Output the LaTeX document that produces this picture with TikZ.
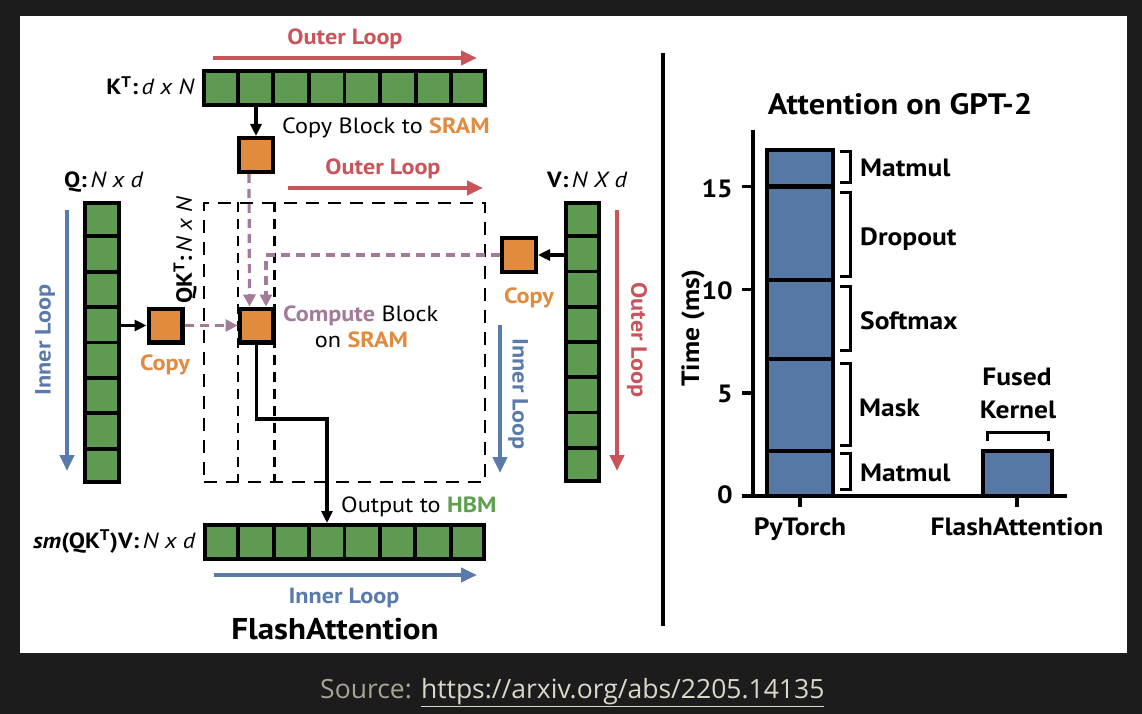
\documentclass[tikz,border=0pt]{standalone}
\usepackage{fontspec}
\setmainfont{PT Sans}[FakeStretch=1.1]
\newfontfamily\srcfont{Open Sans}
\usetikzlibrary{arrows.meta,calc}
\definecolor{bgdark}{HTML}{1C1C1C}
\definecolor{cgreen}{HTML}{5E9A51}
\definecolor{corange}{HTML}{E08B3E}
\definecolor{cred}{HTML}{C9555A}
\definecolor{cblue}{HTML}{5A7AAB}
\definecolor{cpurple}{HTML}{A27B9A}
\definecolor{cbar}{HTML}{5778A5}
\definecolor{hbm}{HTML}{5FA04F}
\definecolor{srcgrey}{HTML}{A9A392}
\definecolor{srclink}{HTML}{DAD6C8}
\newcommand\fsz[1]{\fontsize{#1}{#1}\selectfont}
\begin{document}
\begin{tikzpicture}[x=1pt,y=-1pt,
  lbl/.style={inner sep=0pt},
  dlbl/.style={inner sep=0pt, font=\fsz{22}},
  clbl/.style={inner sep=0pt, font=\bfseries\fsz{25}},
  bar/.style={draw=black, line width=4.2pt, fill=cgreen, inner sep=0pt},
  cellsep/.style={draw=black, line width=3.8pt},
  obox/.style={draw=black, line width=4.2pt, fill=corange, minimum size=33.8pt, inner sep=0pt},
  blkarrow/.style={draw=black, line width=3.4pt, -{Triangle[length=12pt,width=11pt]}},
  parrow/.style={draw=cpurple, line width=3.2pt, dash pattern=on 9pt off 6pt, -{Triangle[length=12pt,width=12pt]}},
  redarrow/.style={draw=cred, line width=4.2pt, -{Triangle[length=16pt,width=14pt]}},
  bluearrow/.style={draw=cblue, line width=4.2pt, -{Triangle[length=16pt,width=14pt]}},
  outdash/.style={draw=black, line width=2.2pt, dash pattern=on 13pt off 9pt},
  indash/.style={draw=black, line width=2.2pt, dash pattern=on 10pt off 7pt},
  axisline/.style={draw=black, line width=3.8pt},
  cbox/.style={draw=black, line width=4.2pt, fill=cbar},
  brk/.style={draw=black, line width=3pt},
]
% background and panel
\fill[bgdark] (0,0) rectangle (1142,714);
\fill[white] (20,16) rectangle (1127,653);
% divider
\draw[black, line width=3.2pt] (663,53) -- (663,626);

% ---------- matrices ----------
\node[bar, minimum width=280.8pt, minimum height=33.8pt] (kt) at (344.5,88) {};
\foreach \k in {1,...,7}
  \draw[cellsep] ($(kt.north west)!\k/8!(kt.north east)$) -- ($(kt.south west)!\k/8!(kt.south east)$);
\node[bar, minimum width=33.8pt, minimum height=278.8pt] (q) at (102,342.5) {};
\foreach \k in {1,...,7}
  \draw[cellsep] ($(q.north west)!\k/8!(q.south west)$) -- ($(q.north east)!\k/8!(q.south east)$);
\node[bar, minimum width=33pt, minimum height=278pt] (v) at (582.5,342) {};
\foreach \k in {1,...,7}
  \draw[cellsep] ($(v.north west)!\k/8!(v.south west)$) -- ($(v.north east)!\k/8!(v.south east)$);
\node[bar, minimum width=278.8pt, minimum height=33.8pt] (o) at (344.5,542) {};
\foreach \k in {1,...,7}
  \draw[cellsep] ($(o.north west)!\k/8!(o.north east)$) -- ($(o.south west)!\k/8!(o.south east)$);

% dashed QK^T region
\node[outdash, minimum width=281pt, minimum height=279pt, inner sep=0pt] (qk) at (344.5,342.5) {};

% inner dashed column
\draw[indash] (238,202) -- (238,483);
\draw[indash] (274.5,202) -- (274.5,483);

% orange blocks
\node[obox] (ktc) at (256,155) {};
\node[obox] (qc) at (165.5,325.5) {};
\node[obox] (cmp) at (256.5,325.5) {};
\node[obox] (vc) at (519,255) {};

% black arrows
\draw[blkarrow] (kt.south -| ktc.north) -- (ktc.north);
\draw[blkarrow] (q.east |- qc.west) -- (qc.west);
\draw[blkarrow] (v.west |- vc.east) -- (vc.east);
\coordinate (bend) at (327,419);
\draw[blkarrow] (cmp.south) |- (bend) -- (bend |- o.north);

% purple dashed arrows
\draw[parrow] ([xshift=-7pt]ktc.south) -- ([xshift=-7pt]cmp.north);
\draw[parrow] (vc.west) -| ([xshift=9.5pt]cmp.north);
\draw[parrow] (qc.east) -- (cmp.west);

% loop arrows
\coordinate (ola) at (213,58); \coordinate (olb) at (477,58);
\draw[redarrow] (ola) -- (olb);
\coordinate (olc) at (288,188); \coordinate (old) at (483,188);
\draw[redarrow] (olc) -- (old);
\coordinate (ila) at (214,575); \coordinate (ilb) at (477,575);
\draw[bluearrow] (ila) -- (ilb);
\coordinate (ilc) at (67,210); \coordinate (ild) at (67,471);
\draw[bluearrow] (ilc) -- (ild);
\coordinate (ole) at (617,210); \coordinate (olf) at (617,471);
\draw[redarrow] (ole) -- (olf);
\coordinate (ile) at (500,325); \coordinate (ilf) at (500,473);
\draw[bluearrow] (ile) -- (ilf);

% ---------- labels (left diagram) ----------
\node[dlbl, text=cred, font=\bfseries\fsz{22}, anchor=base] (t1) at (345,45) {Outer Loop};
\node[dlbl, anchor=base east] (t2) at (195,95) {\textbf{K\textsuperscript{T}:}\,\textit{d x N}};
\node[dlbl, anchor=base west] (t3) at (282,134) {Copy Block to \textcolor{corange}{\textbf{SRAM}}};
\node[dlbl, text=cred, font=\bfseries\fsz{22}, anchor=base] (t4) at (383,175) {Outer Loop};
\node[dlbl, anchor=base west] (t5) at (64,188) {\textbf{Q:}\,\textit{N x d}};
\node[dlbl, anchor=base west] (t6) at (547,188) {\textbf{V:}\,\textit{N X d}};
\node[dlbl, rotate=90] (t7) at (185,250) {\textbf{QK\textsuperscript{T}:}\,\textit{N x N}};
\node[dlbl, text=corange, font=\bfseries\fsz{22}, anchor=base] (t8) at (165,370) {Copy};
\node[dlbl, text=corange, font=\bfseries\fsz{22}, anchor=base] (t9) at (529,303) {Copy};
\node[dlbl, anchor=base west] (t10) at (283,321) {\textcolor{cpurple}{\textbf{Compute}} Block};
\node[dlbl, anchor=base] (t11) at (361.5,347) {on \textcolor{corange}{\textbf{SRAM}}};
\node[dlbl, anchor=base west] (t12) at (341,512) {Output to \textcolor{hbm}{\textbf{HBM}}};
\node[dlbl, anchor=base east] (t13) at (196,548) {\textbf{\textit{sm}(QK\textsuperscript{T})V:}\,\textit{N x d}};
\node[dlbl, text=cblue, font=\bfseries\fsz{22}, anchor=base] (t14) at (344,603) {Inner Loop};
\node[lbl, font=\bfseries\fsz{30}, anchor=base] (t15) at (335,639) {FlashAttention};
\node[dlbl, text=cblue, font=\bfseries\fsz{22}, rotate=90] (t16) at (45,340) {Inner Loop};
\node[dlbl, text=cblue, font=\bfseries\fsz{22}, rotate=-90] (t17) at (518,394) {Inner Loop};
\node[dlbl, text=cred, font=\bfseries\fsz{22}, rotate=-90] (t18) at (637,340) {Outer Loop};

% ---------- chart ----------
\node[lbl, font=\bfseries\fsz{29.5}, anchor=base] (title) at (900,115) {Attention on GPT-2};
\draw[cbox] (767,150) rectangle (833,496);
\foreach \yy in {186.5,280,359,451}
  \draw[black, line width=4.2pt] (767,\yy) -- (833,\yy);
\draw[cbox] (983,451) rectangle (1052,496);
\draw[axisline] (753,130) -- (753,496);
\draw[axisline] (742,496) -- (1067,496);
\foreach \yy in {186.5,289.5,393}
  \draw[axisline] (742,\yy) -- (753,\yy);
\draw[axisline] (800,496) -- (800,507);
\draw[axisline] (1017,496) -- (1017,507);
\node[clbl, anchor=base east] (y15) at (733,197) {15};
\node[clbl, anchor=base east] (y10) at (733,299) {10};
\node[clbl, anchor=base east] (y5) at (733,402) {5};
\node[clbl, anchor=base east] (y0) at (733,503) {0};
\node[clbl, rotate=90] (ylab) at (693,328) {Time (ms)};
\node[clbl, anchor=base] (xpt) at (800,535) {PyTorch};
\node[clbl, anchor=base] (xfa) at (1017,535) {FlashAttention};
% brackets
\draw[brk] (840,152) -- (850,152) -- (850,183) -- (840,183);
\draw[brk] (840,192) -- (850,192) -- (850,276) -- (840,276);
\draw[brk] (840,286) -- (850,286) -- (850,350) -- (840,350);
\draw[brk] (840,363) -- (850,363) -- (850,445) -- (840,445);
\draw[brk] (840,453) -- (850,453) -- (850,489) -- (840,489);
\draw[brk] (987,441) -- (987,432) -- (1048,432) -- (1048,441);
\node[clbl, anchor=base west] (m1) at (860,177) {Matmul};
\node[clbl, anchor=base west] (m2) at (860,245) {Dropout};
\node[clbl, anchor=base west] (m3) at (860,329) {Softmax};
\node[clbl, anchor=base west] (m4) at (859,416) {Mask};
\node[clbl, anchor=base west] (m5) at (860,481) {Matmul};
\node[clbl, anchor=base] (fk1) at (1017,385) {Fused};
\node[clbl, anchor=base] (fk2) at (1018,418) {Kernel};

% ---------- source ----------
\node[lbl, font=\srcfont\fsz{26.5}, anchor=base west, text=srcgrey] (src) at (320,698) {Source: \textcolor{srclink}{\underline{https://arxiv.org/abs/2205.14135}}};
\end{tikzpicture}
\end{document}
